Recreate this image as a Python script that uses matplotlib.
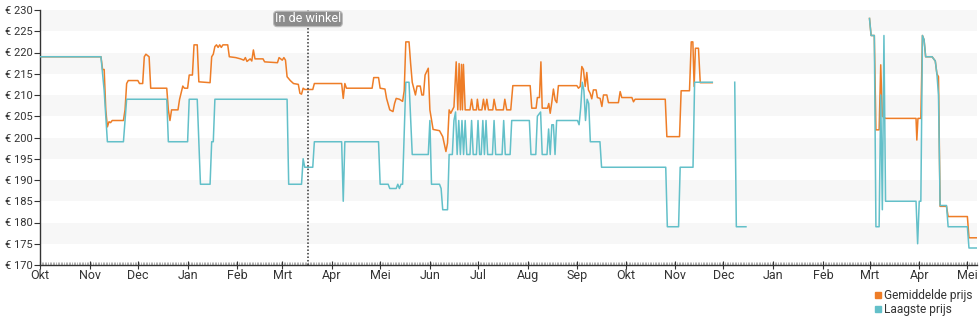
import numpy as np
import matplotlib.pyplot as plt
from matplotlib.lines import Line2D

plt.rcParams['font.family'] = ['Roboto', 'DejaVu Sans']

# dagen sinds 1 oktober 2022, prijs in euro (nan = geen aanbod)
start = np.datetime64('2022-10-01')

laagste_dag = [0, 38, 40, 42, 52, 54, 79, 80, 92, 93, 98, 100,
               106, 107, 108, 109, 154, 155, 163, 164, 165, 170, 171, 188, 189, 190,
               211, 212, 217, 218, 222, 223, 224, 225, 226, 228, 230, 232, 242, 243, 244,
               249, 250, 251, 254, 255, 257, 258, 259, 260, 261, 262, 263, 264, 265, 266,
               268, 269, 270, 272, 273, 274, 275, 276, 277, 278, 279, 282, 283, 284, 288,
               289, 290, 293, 294,
               305, 306, 309, 310, 312, 313, 316, 317, 318, 319, 320, 321, 322, 335, 336,
               337, 338, 339, 340, 341, 342, 343, 349, 350, 390, 391, 398, 399, 407, 408, 419,
               420, 433, 434, 440, 441,
               517, 518, 520, 521, 523, 524, 525, 526, 527, 546, 547, 548, 549, 550, 551,
               552, 556, 558, 559, 560, 561, 565, 566, 578, 579, 584]
laagste_prijs = [219, 219, 211, 199, 199, 209, 209, 199, 199, 209, 209, 189,
                 189, 199, 199, 209, 209, 189, 189, 195, 193, 193, 199, 199, 185, 199,
                 199, 189, 189, 188, 188, 189, 188, 189, 189, 213, 213, 196, 196, 204, 189,
                 189, 188, 183, 183, 196, 196, 204, 206, 196, 204, 196, 204, 196, 204, 196,
                 196, 204, 196, 196, 204, 196, 196, 204, 196, 204, 196, 196, 204, 196, 196,
                 204, 196, 196, 204,
                 204, 196, 196, 205, 206, 196, 196, 202, 196, 203, 203, 196, 204, 204, 203,
                 207, 213, 211, 204, 209, 208, 199, 199, 193, 193, 179, 179, 193, 193, 213, 213,
                 np.nan, 213, 179, 179, np.nan,
                 228, 224, 224, 179, 179, 210, 183, 224, 185, 185, 175, 185, 185, 224, 223,
                 219, 219, 218, 215, 210, 184, 184, 179, 179, 174, 174]

gemiddeld_dag = [0, 38, 39, 40, 41, 42, 43, 44, 45, 52, 53, 54, 55, 61, 62, 64, 65, 66, 68,
                 69, 79, 80, 81, 82, 86, 87, 89, 90, 92, 93, 95, 96, 98, 99,
                 106, 107, 108, 109, 110, 111, 112, 113, 114, 117, 118, 122, 125, 127, 128,
                 129, 131, 132, 133, 134, 139, 140, 148, 149, 151, 152, 153, 154, 156, 158,
                 161, 162, 163, 164, 165, 170, 171, 188, 189, 190, 191,
                 207, 208, 211, 212, 215, 216, 218, 220, 221, 222, 224, 226, 227, 228, 230,
                 231, 232, 234, 235, 237, 238, 239, 240, 242, 243, 245, 249, 251, 253, 254,
                 255, 256, 258, 259.4, 260.4, 261.2, 262, 262.7, 263.3, 263.9, 265, 268,
                 269, 270, 272, 272.6, 273.5, 275.4, 276.4, 277.4, 278.5, 279.5, 282.2, 283,
                 284.3, 288.8, 289.7, 290.9, 293.4, 294.7,
                 305.5, 306.5, 309.2, 310, 311.3, 312.2, 313, 316.3, 317.1, 318, 319, 320,
                 321.1, 322.1, 323.1, 334.6, 335.6, 336.7, 337.7, 338.7, 339.8, 340.8, 341.8,
                 342.9, 343.9, 344.9, 346.6, 347.4, 349.1, 350.2, 351.2, 353.3, 354.3, 360.5,
                 361.6, 362.6, 368.9, 369.9, 370.9, 389.7, 390.7, 398.6, 399.6, 404.8, 405.9,
                 406.9, 407.7, 408.5, 410.4, 411.5, 419, 420,
                 517, 518, 520, 521, 523, 524, 525, 527, 546, 546.5, 547.2, 549, 550, 551,
                 552, 556, 558, 559, 560, 561, 565, 566, 578, 579, 584]
gemiddeld_prijs = [219, 219, 216, 216, 206.5, 202.5, 203.7, 203.5, 204, 204, 206.5, 212.7,
                   213.4, 213.4, 212.7, 212.7, 219, 219.6, 219, 211.6, 211.6, 206.5, 204,
                   206.5, 206.5, 209, 212.1, 211.6, 211.6, 214.7, 214.7, 221.8, 221.8, 213.1,
                   212.9, 219, 219.6, 221.4, 221.8, 221.2, 221.8, 221.2, 221.8, 221.8, 219,
                   218.8, 218.5, 218.2, 218.8, 217.9, 218.5, 218, 220.6, 218.5, 218.5, 217.8,
                   217.6, 218.8, 218.2, 218.8, 218.2, 214.3, 213.4, 212.7, 212.5, 210.4, 210.2,
                   211.6, 211.3, 211.3, 212.7, 212.7, 209.2, 212.7, 211.6,
                   211.6, 214.1, 214.1, 211.6, 211.4, 209.2, 206.5, 206.1, 208, 209.2, 209,
                   208.5, 211, 222.5, 222.5, 217.4, 213, 210, 212.1, 212.1, 210, 210, 214.7,
                   216.3, 206.5, 201.9, 201.6, 200.2, 196.7, 198.7, 206.5, 205.7, 207.2, 217.8,
                   206.5, 217.4, 206.5, 217.2, 206.5, 217.2, 206.5, 206.5, 209, 206.5, 206.5,
                   209, 206.5, 206.5, 209, 206.5, 209, 206.5, 206.5, 209, 206.5, 206.5, 209,
                   206.5, 206.5, 212.2,
                   212.2, 206.9, 206.9, 209.4, 209.4, 217.8, 206.9, 206.9, 208, 205.7, 208.3,
                   211.4, 208.8, 208.2, 212.2, 212.2, 211.6, 212, 216.7, 216, 212, 215.3, 211.2,
                   210.4, 209.1, 211.2, 211.2, 209.4, 209.2, 207.3, 210, 210, 208.2, 208.2,
                   210.8, 209.4, 209.4, 208.4, 209, 209, 200.2, 200.2, 211, 211, 222.5, 222.5,
                   212, 221, 221, 212.9, 212.9, np.nan,
                   228, 224, 224, 201.8, 201.8, 217.1, 205, 204.5, 204.5, 199.4, 204.5, 204.5,
                   224, 223, 219, 219, 218, 215, 214.3, 183.8, 183.8, 181.4, 181.4, 176.4, 176.4]

winkel_dag = 167
maanden = ['Okt', 'Nov', 'Dec', 'Jan', 'Feb', 'Mrt', 'Apr', 'Mei', 'Jun', 'Jul', 'Aug',
           'Sep', 'Okt', 'Nov', 'Dec', 'Jan', 'Feb', 'Mrt', 'Apr', 'Mei']

oranje = '#ee7d27'
blauw = '#63c0c9'
tekst = '#333333'

fig = plt.figure(figsize=(9.8, 3.25), dpi=100, facecolor='w')
ax = fig.add_axes([40/980, 60/325, 937/980, 255/325])

# grijze banden om de 10 euro
for lo in range(175, 230, 10):
    ax.axhspan(lo, lo + 5, color='#f7f7f7', lw=0, zorder=0)

ax.plot(gemiddeld_dag, gemiddeld_prijs, color=oranje, lw=1.1, zorder=2)
ax.plot(laagste_dag, laagste_prijs, color=blauw, lw=1.1, zorder=3)

ax.axvline(winkel_dag, color='#333333', ls=(0, (1, 1.3)), lw=1.1, zorder=4)
ax.text(winkel_dag, 0.965, 'In de winkel', transform=ax.get_xaxis_transform(),
        ha='center', va='center', color='white', fontsize=9, zorder=5,
        bbox=dict(boxstyle='round,pad=0.1,rounding_size=0.3', fc='#8c8c8c', ec='#bbbbbb', lw=0.8))

maand_start = np.arange('2022-10', '2024-06', dtype='datetime64[M]').astype('datetime64[D]')
maand_dag = (maand_start - start).astype(int)
ax.set_xticks(maand_dag)
ax.set_xticklabels(maanden)
ax.set_xticks(np.arange(0, 585), minor=True)
ax.set_xlim(0, 584)

ax.set_ylim(170, 230)
ax.set_yticks(np.arange(170, 231, 5))
ax.set_yticklabels(['€ %d' % v for v in range(170, 231, 5)])

for s in ['top', 'right']:
    ax.spines[s].set_visible(False)
for s in ['left', 'bottom']:
    ax.spines[s].set_color(tekst)
    ax.spines[s].set_linewidth(1.0)

ax.tick_params(axis='both', which='major', colors=tekst, length=4, width=0.8, pad=1)
ax.tick_params(axis='y', which='major', labelsize=8)
ax.tick_params(axis='x', which='major', direction='inout', length=6, labelsize=9, pad=0)
ax.tick_params(axis='x', which='minor', direction='in', length=2.5, width=0.4, color='#777777')

handles = [Line2D([], [], marker='s', ls='none', color=oranje, markersize=5),
           Line2D([], [], marker='s', ls='none', color=blauw, markersize=5)]
fig.legend(handles, ['Gemiddelde prijs', 'Laagste prijs'], loc='upper left',
           bbox_to_anchor=(874/980, 1 - 289/325), frameon=False, fontsize=8.6,
           handletextpad=0.1, handlelength=0.7, labelspacing=0.1, borderpad=0, borderaxespad=0,
           labelcolor=tekst)

fig.savefig('out.png', dpi=100)
